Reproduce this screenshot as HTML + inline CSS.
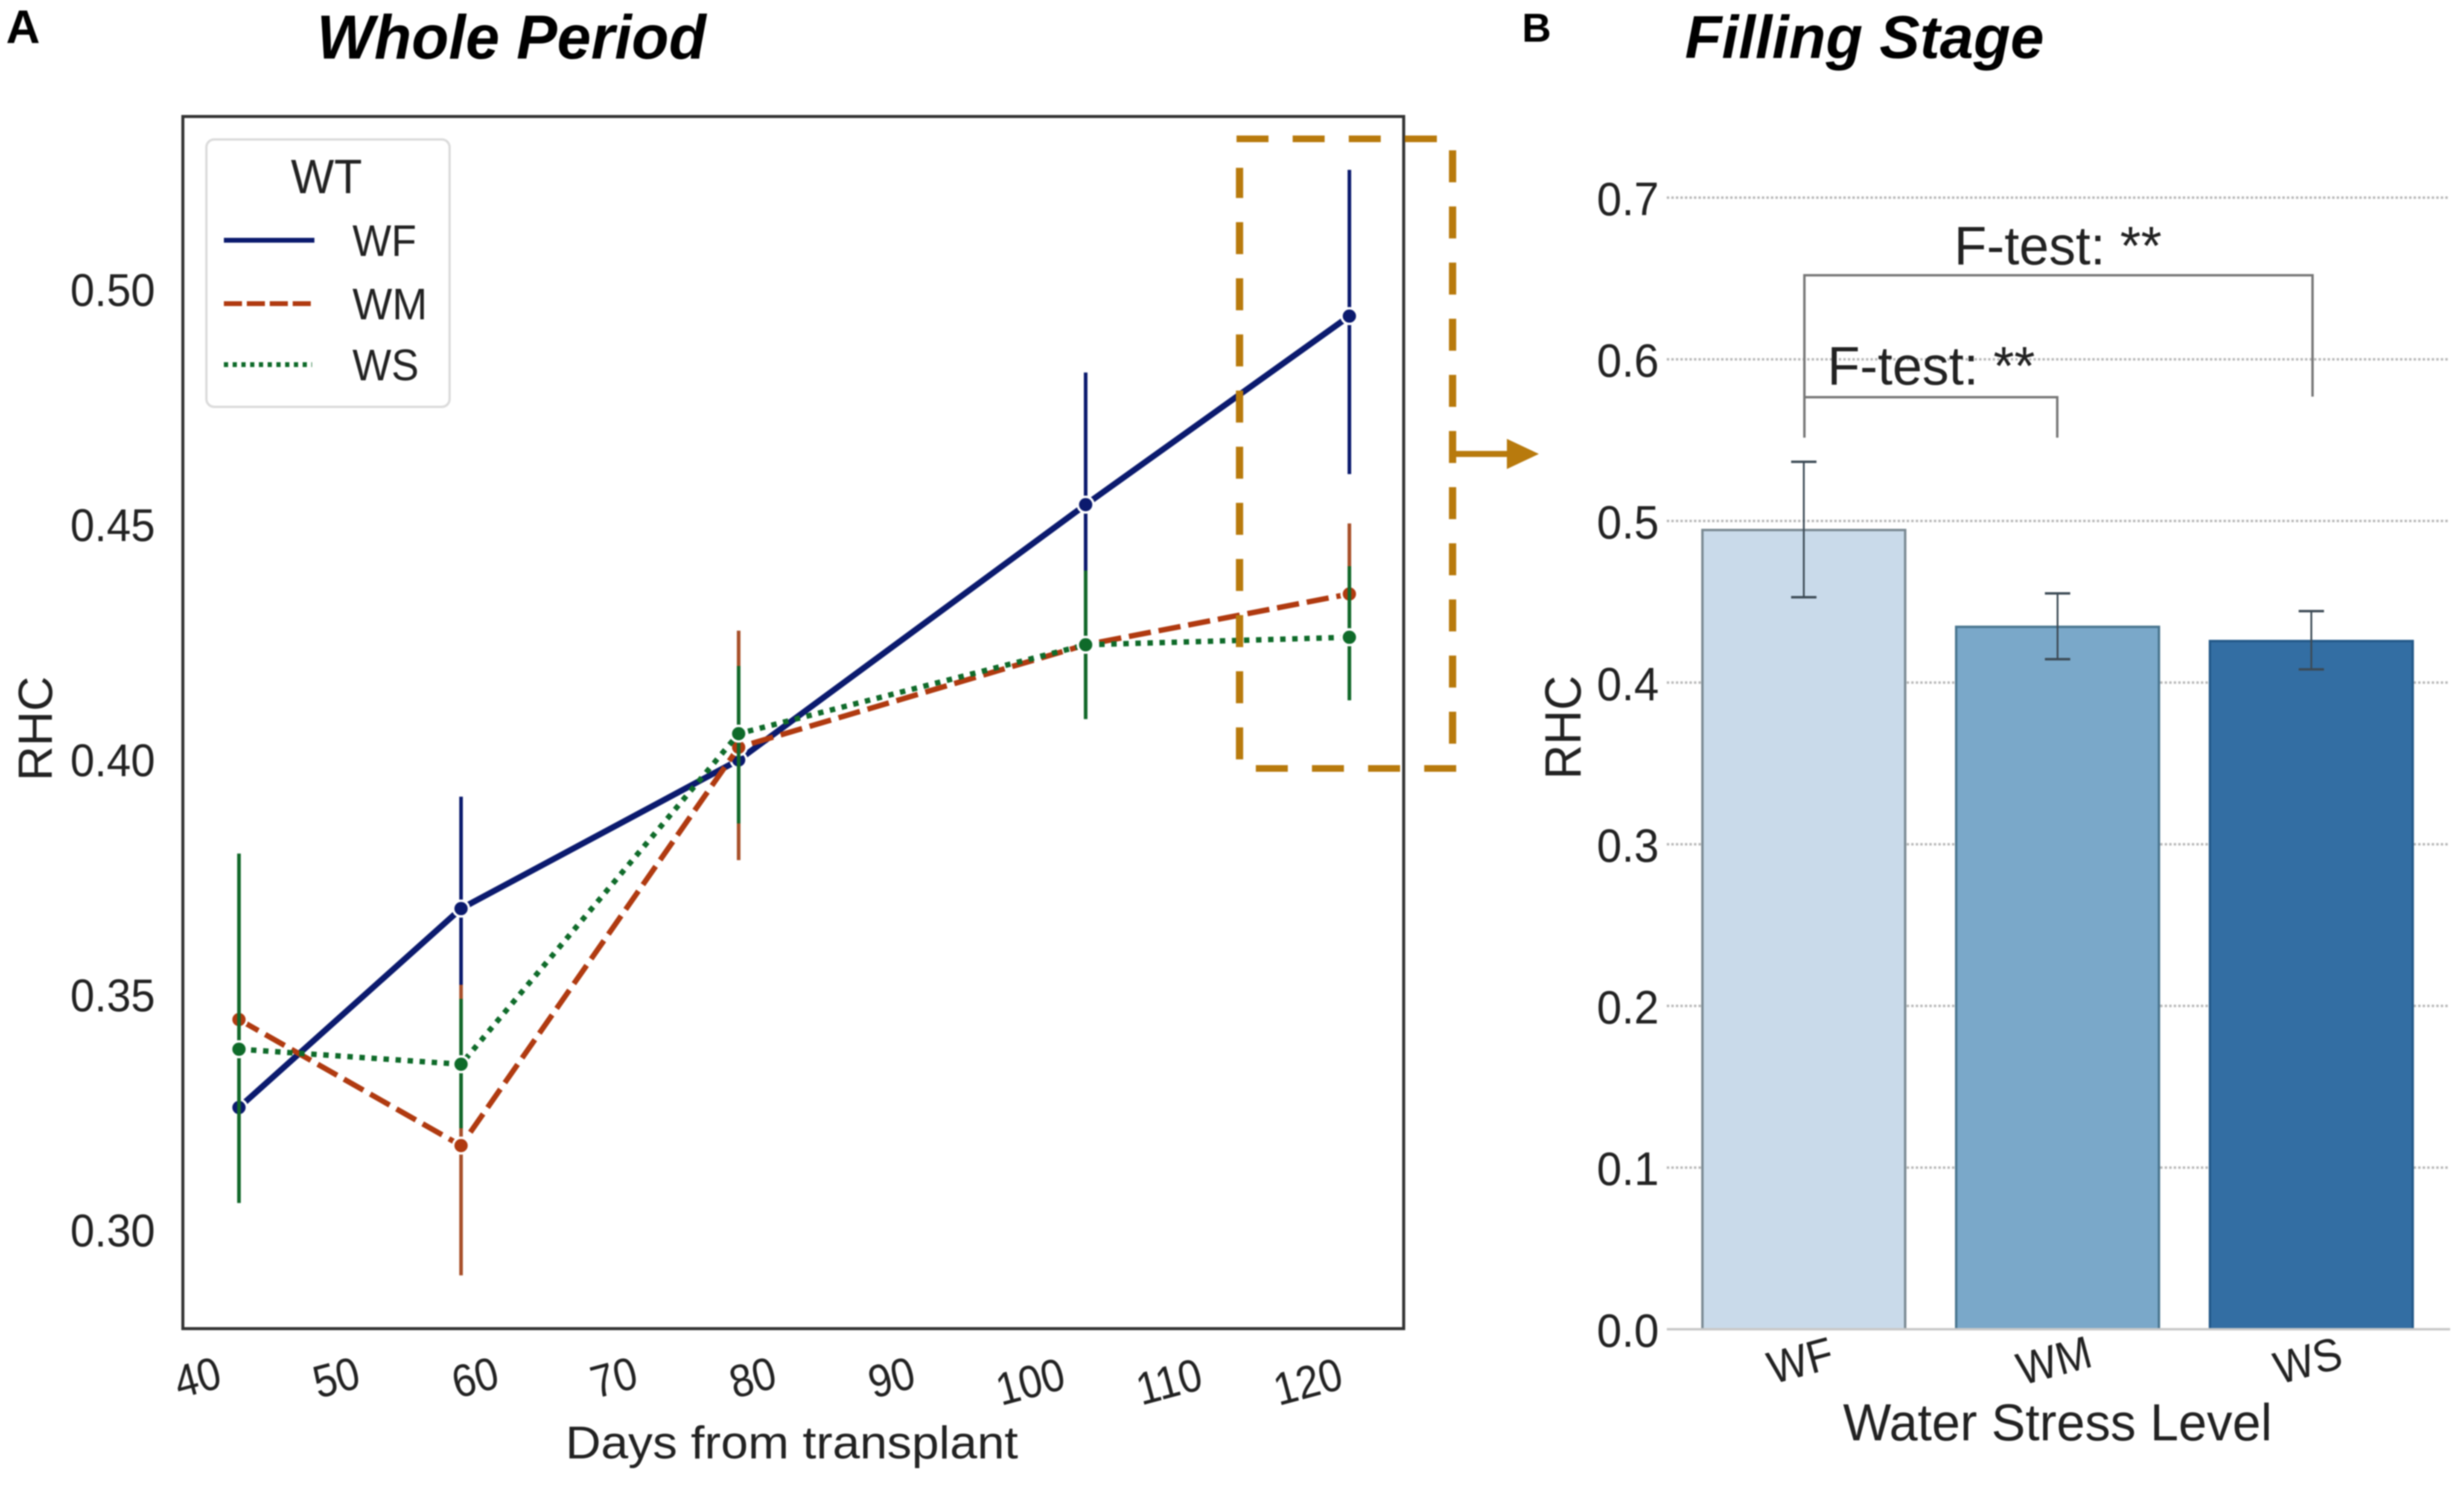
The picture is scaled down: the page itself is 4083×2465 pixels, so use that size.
<!DOCTYPE html>
<html lang="en">
<head>
<meta charset="utf-8">
<title>RHC under water stress levels</title>
<style>
html,body{margin:0;padding:0;background:#fff;width:4083px;height:2465px;overflow:hidden}
svg{display:block;font-family:"Liberation Sans",Arial,sans-serif;filter:blur(1px)}
text{fill:#222}
</style>
</head>
<body>
<svg id="figure" xmlns="http://www.w3.org/2000/svg" width="4083" height="2465" viewBox="0 0 4083 2465">
  <rect x="0" y="0" width="4083" height="2465" fill="#fff"/>
  <text x="10" y="71" font-size="78" font-weight="700" style="fill:#000">A</text>
  <text x="525" y="97" font-size="103" font-weight="700" font-style="italic" textLength="645" lengthAdjust="spacingAndGlyphs" style="fill:#000">Whole Period</text>
  <text x="2522" y="69" font-size="67" font-weight="700" style="fill:#000">B</text>
  <text x="2792" y="96" font-size="100" font-weight="700" font-style="italic" textLength="595" lengthAdjust="spacingAndGlyphs" style="fill:#000">Filling Stage</text>

  <g id="panel-a">
    <rect x="303" y="193" width="2023" height="2008" fill="#fff" stroke="#333" stroke-width="5"/>
    <g id="a-yticks"></g>
    <g id="a-xticks"></g>
    <text transform="translate(86,1207) rotate(-90)" text-anchor="middle" font-size="80">RHC</text>
    <text x="1312" y="2416" text-anchor="middle" font-size="76" textLength="750" lengthAdjust="spacingAndGlyphs">Days from transplant</text>
    <g id="a-series"></g>
    <g>
      <rect x="342" y="231" width="403" height="443" rx="13" ry="13" fill="#fff" stroke="#dcdcdc" stroke-width="4"/>
      <text x="541" y="320" text-anchor="middle" font-size="80" textLength="118" lengthAdjust="spacingAndGlyphs">WT</text>
      <line x1="371" x2="521" y1="398" y2="398" stroke="#0b1a6e" stroke-width="8"/>
      <text x="584" y="424" font-size="73" textLength="106" lengthAdjust="spacingAndGlyphs">WF</text>
      <line x1="371" x2="515" y1="503" y2="503" stroke="#b03a10" stroke-width="8" stroke-dasharray="30 8"/>
      <text x="584" y="529" font-size="73" textLength="124" lengthAdjust="spacingAndGlyphs">WM</text>
      <line x1="371" x2="517" y1="604" y2="604" stroke="#0f6b2a" stroke-width="8" stroke-dasharray="7 7.5"/>
      <text x="584" y="630" font-size="73" textLength="110" lengthAdjust="spacingAndGlyphs">WS</text>
    </g>
  </g>

  <g id="panel-b">
    <g id="b-grid"></g>
    <g id="b-bars"></g>
    <line x1="2762" x2="4060" y1="2202" y2="2202" stroke="#c8c8c8" stroke-width="4"/>
    <g id="b-xticks"></g>
    <text transform="translate(2619,1205) rotate(-90)" text-anchor="middle" font-size="84" textLength="172" lengthAdjust="spacingAndGlyphs">RHC</text>
    <text x="3054" y="2386" font-size="86" textLength="711" lengthAdjust="spacingAndGlyphs">Water Stress Level</text>
    <path d="M2990 725 V456 H3832 V657" fill="none" stroke="#777" stroke-width="4"/>
    <path d="M2990 658 H3409 V725" fill="none" stroke="#777" stroke-width="4"/>
    <text x="3238" y="438" font-size="90" textLength="344" lengthAdjust="spacingAndGlyphs">F-test: **</text>
    <text x="3028" y="637" font-size="90" textLength="344" lengthAdjust="spacingAndGlyphs">F-test: **</text>
  </g>

  <g>
    <g stroke="#b87a0d" stroke-dasharray="53 40" fill="none">
      <line x1="2049" x2="2388" y1="230" y2="230" stroke-width="11"/>
      <line x1="2407" x2="2407" y1="249" y2="1235" stroke-width="12"/>
      <line x1="2413" x2="2078" y1="1273" y2="1273" stroke-width="11"/>
      <line x1="2054" x2="2054" y1="1258" y2="278" stroke-width="12"/>
    </g>
    <line x1="2407" x2="2500" y1="752" y2="752" stroke="#b87a0d" stroke-width="10"/>
    <polygon points="2497,727 2550,752 2497,777" fill="#b87a0d"/>
  </g>
</svg>

<script>
const days = [43, 59, 79, 104, 123];
const wfMean = [0.3261, 0.3684, 0.4000, 0.4543, 0.4944];
const wfLow = [0.3100, 0.3446, 0.3900, 0.4263, 0.4608];
const wfHigh = [0.3420, 0.3922, 0.4100, 0.4824, 0.5255];
const wmMean = [0.3448, 0.3180, 0.4027, 0.4245, 0.4353];
const wmLow = [0.3250, 0.2904, 0.3787, 0.4100, 0.4200];
const wmHigh = [0.3650, 0.3522, 0.4275, 0.4400, 0.4503];
const wsMean = [0.3385, 0.3353, 0.4056, 0.4245, 0.4261];
const wsLow = [0.3058, 0.3217, 0.3865, 0.4087, 0.4127];
const wsHigh = [0.3801, 0.3492, 0.4200, 0.4403, 0.4412];
const lineYTicks = [0.30, 0.35, 0.40, 0.45, 0.50];
const lineXTicks = [40, 50, 60, 70, 80, 90, 100, 110, 120];

const barCategories = ['WF', 'WM', 'WS'];
const barMeans = [0.4944, 0.4345, 0.4257];
const barLow = [0.4528, 0.4145, 0.4082];
const barHigh = [0.5366, 0.4552, 0.4442];
const barYTicks = [0.0, 0.1, 0.2, 0.3, 0.4, 0.5, 0.6, 0.7];

const NS = 'http://www.w3.org/2000/svg';
function make(parentId, tag, attrs, txt) {
  const el = document.createElementNS(NS, tag);
  for (const k in attrs) el.setAttribute(k, attrs[k]);
  if (txt !== undefined) el.textContent = txt;
  document.getElementById(parentId).appendChild(el);
  return el;
}

/* axis functions */
function lineX(d) { return 327 + (d - 40) * 23; }
function lineY(v) { return 2038 - (v - 0.30) * 7790; }
function barIndexX(i) { return 2989 + i * 420.5; }
function barY(v) { return 2202 - v * 2678; }

/* panel A ticks */
lineYTicks.forEach(function (t) {
  const el = make('a-yticks', 'text', { x: 0, y: 27, 'text-anchor': 'end', 'font-size': 76, transform: 'translate(257,' + lineY(t) + ') scale(.95,1)' }, t.toFixed(2));
  
  
});
lineXTicks.forEach(function (t) {
  const cx = lineX(t);
  const cy = t >= 100 ? 2288 : 2281;
  const el = make('a-xticks', 'text', { x: 0, y: 27, 'text-anchor': 'middle', 'font-size': 76, transform: 'translate(' + cx + ',' + cy + ') rotate(-15) scale(.9,1)' }, String(t));
  
  
});

/* panel A series */
function drawSeries(name, mean, low, high, color, errColor, width, dash) {
  days.forEach(function (d, i) {
    const bar = make('a-series', 'line', { x1: lineX(d), x2: lineX(d), y1: lineY(low[i]), y2: lineY(high[i]), stroke: errColor, 'stroke-width': 6 });
    
    
  });
  const pts = days.map(function (d, i) { return lineX(d) + ',' + lineY(mean[i]); }).join(' ');
  const attrs = { points: pts, fill: 'none', stroke: color, 'stroke-width': width };
  if (dash) attrs['stroke-dasharray'] = dash;
  const poly = make('a-series', 'polyline', attrs);
  
  
  days.forEach(function (d, i) {
    const dot = make('a-series', 'circle', { cx: lineX(d), cy: lineY(mean[i]), r: 13, fill: color, stroke: '#fff', 'stroke-width': 4 });
    
    
  });
}
drawSeries('wf', wfMean, wfLow, wfHigh, '#0b1a6e', '#0b1a6e', 10, '');
drawSeries('wm', wmMean, wmLow, wmHigh, '#b03a10', '#a8502a', 9, '37 13');
drawSeries('ws', wsMean, wsLow, wsHigh, '#0f6b2a', '#12682a', 9, '9 11');

/* panel B */
const barFills = ['#c9daea', '#7aa8c9', '#336ea3'];
const barEdges = ['#7b8a93', '#4a7690', '#245a8a'];
const barHalfWidth = 168;

barYTicks.forEach(function (t) {
  const label = make('b-grid', 'text', { x: 0, y: 29, 'text-anchor': 'end', 'font-size': 78, transform: 'translate(2749,' + barY(t) + ') scale(.95,1)' }, t.toFixed(1));
  
  
  if (t > 0) {
    const g = make('b-grid', 'line', { x1: 2762, x2: 4057, y1: barY(t), y2: barY(t), stroke: '#b8b8b8', 'stroke-width': 4, 'stroke-dasharray': '4 3.5' });
    
    
  }
});

barCategories.forEach(function (c, i) {
  const cx = barIndexX(i);
  const rect = make('b-bars', 'rect', { x: cx - barHalfWidth, y: barY(barMeans[i]), width: barHalfWidth * 2, height: barY(0) - barY(barMeans[i]), fill: barFills[i], stroke: barEdges[i], 'stroke-width': 4 });
  
  
  const stem = make('b-bars', 'line', { x1: cx, x2: cx, y1: barY(barLow[i]), y2: barY(barHigh[i]), stroke: '#3c4a55', 'stroke-width': 3 });
  
  
  [barLow[i], barHigh[i]].forEach(function (v) {
    const cap = make('b-bars', 'line', { x1: cx - 21, x2: cx + 21, y1: barY(v), y2: barY(v), stroke: '#3c4a55', 'stroke-width': 4 });
    
    
  });
  const lx = cx - 6;
  const ly = 2253;
  const tick = make('b-xticks', 'text', { x: 0, y: 27, 'text-anchor': 'middle', 'font-size': 76, transform: 'translate(' + lx + ',' + ly + ') rotate(-15) scale(.92,1)' }, c);
  
  
});
</script>
</body>
</html>
